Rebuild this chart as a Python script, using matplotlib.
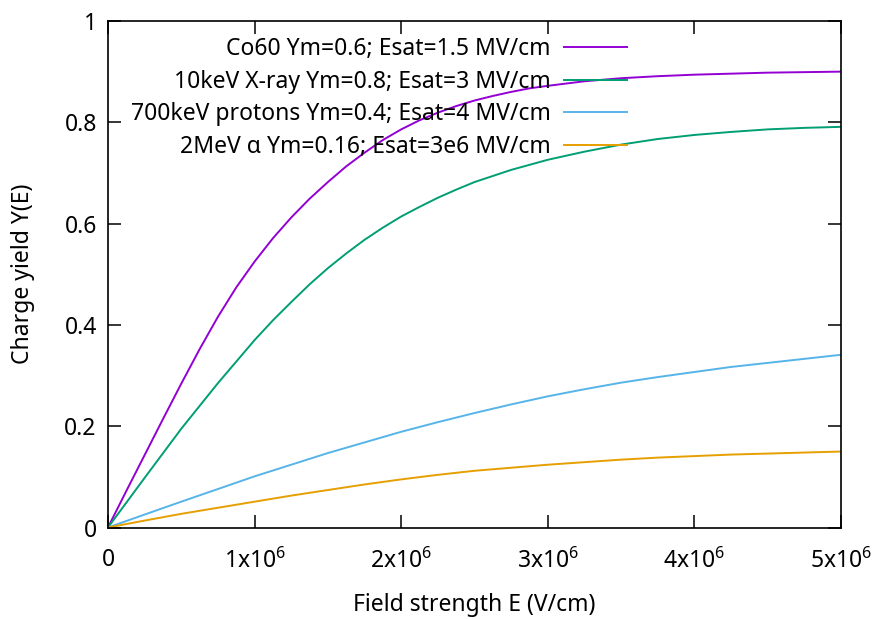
import matplotlib
matplotlib.use("Agg")
import matplotlib.pyplot as plt
from matplotlib.ticker import FuncFormatter

plt.rcParams['font.family'] = ['Noto Sans', 'DejaVu Sans']
plt.rcParams['mathtext.fontset'] = 'custom'
plt.rcParams['mathtext.rm'] = 'Noto Sans'

# field strength samples in MV/cm
e_co60 = [0, 0.125, 0.25, 0.375, 0.5, 0.625, 0.75, 0.875, 1.0, 1.125, 1.25,
          1.375, 1.5, 1.625, 1.75, 1.875, 2.0, 2.125, 2.25, 2.375, 2.5,
          2.625, 2.75, 2.875, 3.0, 3.25, 3.5, 3.75, 4.0, 4.5, 5.0]
y_co60 = [0, 0.072, 0.143, 0.214, 0.284, 0.352, 0.416, 0.474, 0.525, 0.571,
          0.612, 0.649, 0.682, 0.713, 0.740, 0.765, 0.786, 0.804, 0.819,
          0.832, 0.843, 0.852, 0.860, 0.867, 0.872, 0.881, 0.887, 0.891,
          0.894, 0.898, 0.900]

e_xray = [0, 0.25, 0.5, 0.75, 1.0, 1.125, 1.25, 1.375, 1.5, 1.625, 1.75,
          1.875, 2.0, 2.125, 2.25, 2.375, 2.5, 2.75, 3.0, 3.25, 3.5, 3.75,
          4.0, 4.25, 4.5, 4.75, 5.0]
y_xray = [0, 0.098, 0.195, 0.285, 0.37, 0.409, 0.445, 0.480, 0.512, 0.541,
          0.568, 0.592, 0.614, 0.633, 0.651, 0.667, 0.682, 0.706, 0.726,
          0.742, 0.756, 0.767, 0.775, 0.781, 0.786, 0.789, 0.791]

e_slow = [0, 0.25, 0.5, 0.75, 1.0, 1.25, 1.5, 1.75, 2.0, 2.25, 2.5, 2.75,
          3.0, 3.25, 3.5, 3.75, 4.0, 4.25, 4.5, 4.75, 5.0]
y_proton = [0, 0.0256, 0.051, 0.076, 0.101, 0.124, 0.147, 0.168, 0.189,
            0.208, 0.226, 0.243, 0.259, 0.273, 0.286, 0.297, 0.307, 0.317,
            0.325, 0.333, 0.341]
y_alpha = [0, 0.0137, 0.027, 0.039, 0.051, 0.063, 0.074, 0.085, 0.095,
           0.104, 0.112, 0.118, 0.124, 0.129, 0.134, 0.138, 0.141, 0.144,
           0.146, 0.148, 0.150]

labels = ["Co60 Ym=0.6; Esat=1.5 MV/cm",
          "10keV X-ray Ym=0.8; Esat=3 MV/cm",
          "700keV protons Ym=0.4; Esat=4 MV/cm",
          "2MeV \u03b1 Ym=0.16; Esat=3e6 MV/cm"]
colors = ["#9400d3", "#009e73", "#56b4e9", "#e69f00"]

fig = plt.figure(figsize=(8.77, 6.19), dpi=100)
ax = fig.add_axes([0.1231, 0.1478, 0.8359, 0.8183])

series = [(e_co60, y_co60), (e_xray, y_xray),
          (e_slow, y_proton), (e_slow, y_alpha)]
for (ex, ys), lab, col in zip(series, labels, colors):
    ax.plot([v * 1e6 for v in ex], ys, color=col, lw=1.4, label=lab)

ax.set_xlim(0, 5e6)
ax.set_ylim(0, 1)
ax.set_xticks([0, 1e6, 2e6, 3e6, 4e6, 5e6])
ax.set_yticks([0, 0.2, 0.4, 0.6, 0.8, 1.0])


def xfmt(v, pos):
    if v == 0:
        return "0"
    return r"%dx10$^{6}$" % round(v / 1e6)


def yfmt(v, pos):
    if v == 0:
        return "0"
    if v == 1:
        return "1"
    return "%.1f" % v


fs = 16.5
ax.xaxis.set_major_formatter(FuncFormatter(xfmt))
ax.yaxis.set_major_formatter(FuncFormatter(yfmt))
ax.tick_params(direction='in', length=9.5, width=1.1, top=True, right=True,
               labelsize=fs)
ax.tick_params(axis='x', pad=15)
ax.tick_params(axis='y', pad=8)
for s in ax.spines.values():
    s.set_linewidth(1.2)

ax.set_xlabel("Field strength E (V/cm)", fontsize=fs, labelpad=14)
ax.set_ylabel("Charge yield Y(E)", fontsize=fs, labelpad=21)

ax.legend(loc='upper right', bbox_to_anchor=(0.708, 0.968), frameon=False,
          markerfirst=False, fontsize=fs, handlelength=2.75,
          handletextpad=0.57, labelspacing=0.37, borderpad=0,
          borderaxespad=0)

fig.savefig("out.png", dpi=100)
